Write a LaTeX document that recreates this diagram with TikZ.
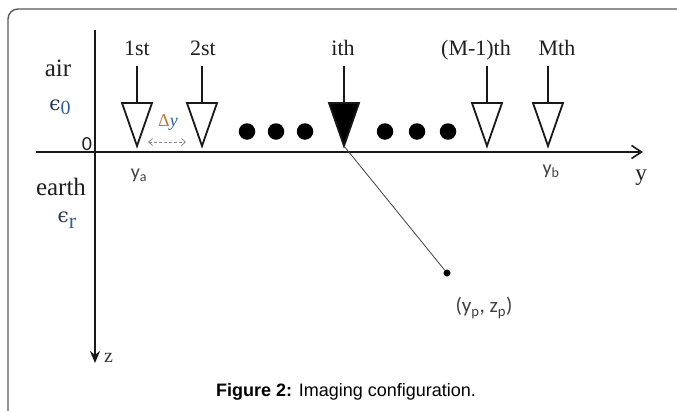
\documentclass[tikz,border=0pt]{standalone}
\usepackage{fontspec}
\setmainfont{Liberation Serif}
\newfontfamily\carl{Carlito}
\newfontfamily\capfont{Liberation Sans}
\newfontfamily\epsfont{DejaVu Serif}
\usetikzlibrary{arrows.meta}
\definecolor{epsdark}{HTML}{2B3550}
\definecolor{epsblue}{HTML}{2F5E9E}
\definecolor{deltaorange}{HTML}{C07830}
\begin{document}
\begin{tikzpicture}[x=1pt,y=-1pt,
  axis/.style={line width=2.2pt, black!90},
  recv/.style={line width=1.8pt, black!90, line join=miter},
  stem/.style={line width=1.8pt, black!90},
  toplbl/.style={font=\fontsize{22}{22}\selectfont, text=black!88, inner sep=0pt, anchor=base},
  sidelbl/.style={font=\fontsize{25}{25}\selectfont, text=black!88, inner sep=0pt, anchor=base},
  sanslbl/.style={font=\carl\fontsize{20}{20}\selectfont, text=black!75, inner sep=0pt},
  bigdot/.style={circle, fill=black, inner sep=0pt, minimum size=16.5pt},
  ptdot/.style={circle, fill=black, inner sep=0pt, minimum size=7pt}
]
\useasboundingbox (0,0) rectangle (677,410);
% frame
\draw[line width=1.4pt, black!65, rounded corners=10pt] (8,412) -- (8,9) -- (679,9);
% axes
\coordinate (O) at (95,152);
\coordinate (yL) at (36,152);
\coordinate (yR) at (643,152);
\coordinate (zT) at (95,30);
\coordinate (zB) at (95,363);
\draw[axis, -{Straight Barb[length=10pt,width=13pt,line width=1.6pt]}] (yL) -- (yR);
\draw[axis, -{Stealth[length=12pt,width=10pt]}] (zT) -- (zB);
\node[sidelbl, font=\fontsize{23}{23}\selectfont, anchor=base] (ylab) at (641,180) {y};
\node[font=\fontsize{20}{20}\selectfont, text=black!80, inner sep=0pt, anchor=base west] (zlab) at (104,362) {z};
% receivers
\foreach \n/\x/\f in {r1/137/white, r2/202/white, ri/344/black, rm1/487/white, rm/548/white}{
  \coordinate (\n-top) at (\x,66);
  \coordinate (\n-base) at (\x,103);
  \coordinate (\n-apex) at (\x,146);
  \draw[stem] (\n-top) -- (\n-base);
  \draw[recv, fill=\f] (\x-15,103) -- (\x+15,103) -- (\n-apex) -- cycle;
}
% top labels
\node[toplbl] (l1) at (137,55) {1st};
\node[toplbl] (l2) at (203,55) {2st};
\node[toplbl] (li) at (343,55) {ith};
\node[toplbl] (lm1) at (476,55) {(M-1)th};
\node[toplbl] (lm) at (557,55) {Mth};
% dots
\foreach \n/\x in {d1/247, d2/276, d3/305, d4/385, d5/417, d6/448}{
  \node[bigdot] (\n) at (\x,131.5) {};
}
% side labels
\node[sidelbl] (air) at (58,76) {air};
\node[inner sep=0pt, anchor=base] (eps0) at (60,110) {\color{epsdark}\epsfont\fontsize{20}{20}\selectfont ϵ\raisebox{-4pt}{\color{epsblue}\fontsize{20}{20}\selectfont\rmfamily 0}};
\node[sidelbl] (earth) at (61,195) {earth};
\node[inner sep=0pt, anchor=base] (epsr) at (67,222) {\color{epsdark}\epsfont\fontsize{20}{20}\selectfont ϵ\raisebox{-6pt}{\color{epsblue}\fontsize{22}{22}\selectfont\rmfamily r}};
\node[font=\carl\fontsize{20}{20}\selectfont, text=black!88, inner sep=0pt] (zero) at (87,144) {0};
% delta y
\node[inner sep=0pt] (dy) at (168,122) {\fontsize{18}{18}\selectfont{\color{deltaorange}Δ}{\color{epsblue}\itshape y}};
\coordinate (dyL) at (148,142);
\coordinate (dyR) at (186,142);
\draw[black!45, line width=0.8pt, densely dashed, {Straight Barb[length=4pt,width=7pt]}-{Straight Barb[length=4pt,width=7pt]}] (dyL) -- (dyR);
% ya yb
\node[sanslbl] (ya) at (139,175) {y\textsubscript{a}};
\node[sanslbl] (yb) at (551,171) {y\textsubscript{b}};
% point
\node[ptdot] (P) at (447,273) {};
\draw[line width=0.8pt, black!75] (ri-apex) -- (P);
\node[sanslbl, font=\carl\fontsize{21}{21}\selectfont] (Plab) at (484,308) {(y\textsubscript{p}, z\textsubscript{p})};
% caption
\node[font=\capfont\fontsize{18}{18}\selectfont, inner sep=0pt] (cap) at (346,392) {\textbf{Figure 2:} Imaging configuration.};
\end{tikzpicture}
\end{document}
